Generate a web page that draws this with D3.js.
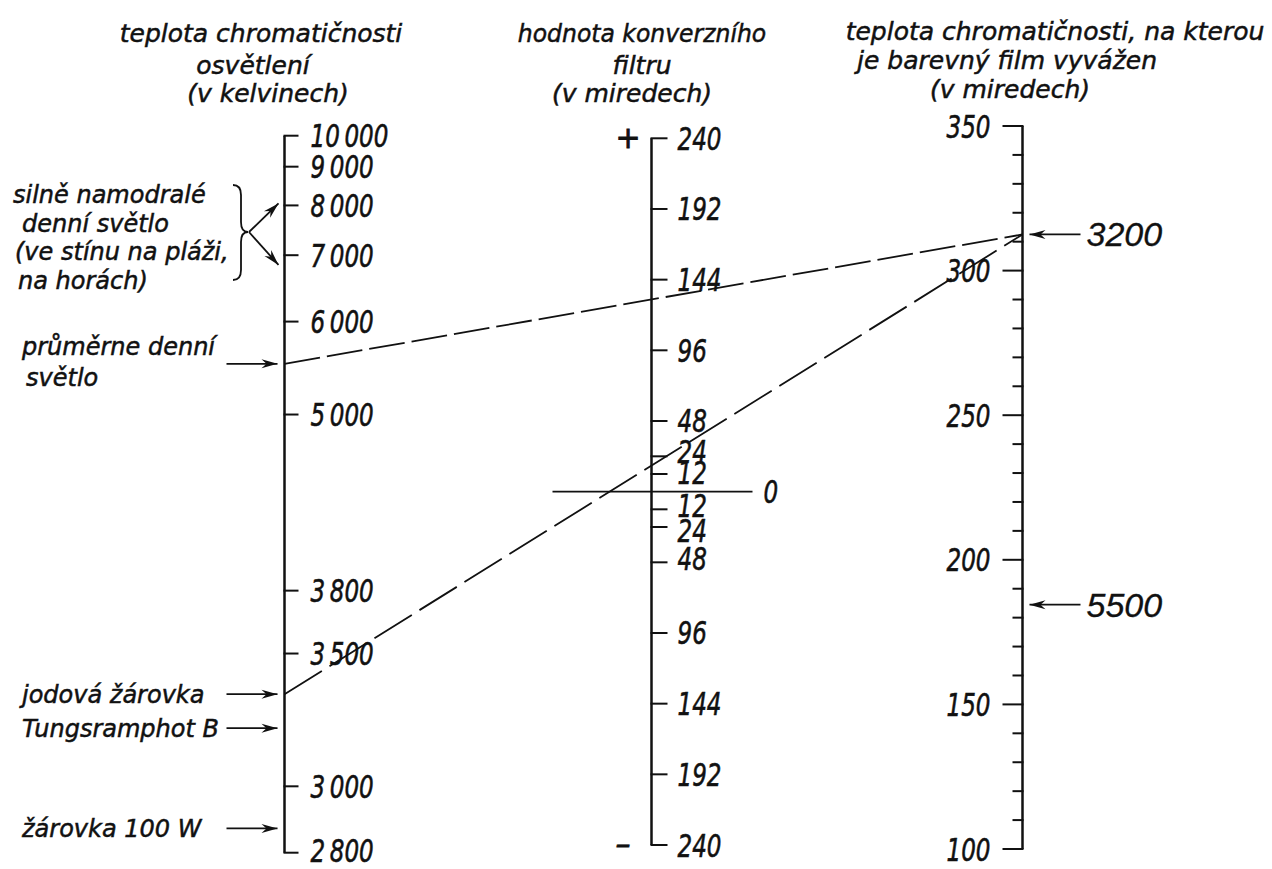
<!DOCTYPE html>
<html><head><meta charset="utf-8">
<script src="https://cdn.jsdelivr.net/npm/d3@7/dist/d3.min.js"></script>
<style>body{margin:0;background:#fff}svg{display:block}</style>
</head><body><svg id="c" width="1272" height="869"></svg>
<script>
// ---------- data ----------
const leftTickKelvin = [10000, 9000, 8000, 7000, 6000, 5000, 3800, 3500, 3000, 2800];
const leftTickLabels = ["10\u2009000", "9\u2009000", "8\u2009000", "7\u2009000", "6\u2009000", "5\u2009000", "3\u2009800", "3\u2009500", "3\u2009000", "2\u2009800"];
const filterTicks = [240, 192, 144, 96, 48, 24, 12, -12, -24, -48, -96, -144, -192, -240];
const filterTickLabels = ["240", "192", "144", "96", "48", "24", "12", "12", "24", "48", "96", "144", "192", "240"];
const filmTicks = [100, 110, 120, 130, 140, 150, 160, 170, 180, 190, 200, 210, 220, 230, 240, 250, 260, 270, 280, 290, 300, 310, 320, 330, 340, 350];
const filmTickLabels = [100, 150, 200, 250, 300, 350];
const sourceLabels = [["průměrne denní", "světlo"], ["jodová žárovka"], ["Tungsramphot B"], ["žárovka 100 W"]];
const sourceKelvin = [5500, 3330, 3200, 2870];
const skyLabel = ["silně namodralé", "denní světlo", "(ve stínu na pláži,", "na horách)"];
const skyKelvin = [8000, 6800];
const filmMarkLabels = ["3200", "5500"];
const filmMarkMired = [312.5, 184.5];
const lineFromKelvin = [5500, 3330];
const lineToMired = [312.5, 312.5];
const titleLeft = ["teplota chromatičnosti", "osvětlení", "(v kelvinech)"];
const titleMid = ["hodnota konverzního", "filtru", "(v miredech)"];
const titleRight = ["teplota chromatičnosti, na kterou", "je barevný film vyvážen", "(v miredech)"];

// ---------- layout ----------
const svg = d3.select("#c");
svg.append("rect").attr("width", 1272).attr("height", 869).attr("fill", "#fff");
const ink = "#111";
const xL = 284.5, xM = 651.5, xR = 1022.5;
const mired = k => 1e6 / k;
const yL = d3.scaleLinear().domain([mired(10000), mired(2800)]).range([135.7, 852.7]);
const yM = d3.scaleLinear().domain([240, -240]).range([138.3, 845]);
const yR = d3.scaleLinear().domain([350, 100]).range([126, 849]);
// small label nudges on the crowded middle scale (layout only)
const midNudge = { "24": -5, "12": -1, "-12": -4, "-24": 4, "-48": -4 };

const defs = svg.append("defs");
defs.append("marker").attr("id", "arr").attr("viewBox", "-17 -5 18 10")
  .attr("refX", 0).attr("refY", 0).attr("markerWidth", 18).attr("markerHeight", 10)
  .attr("markerUnits", "userSpaceOnUse").attr("orient", "auto")
  .append("path").attr("d", "M0,0 L-16,-4.5 L-11,0 L-16,4.5 Z").attr("fill", ink);

function label(g, x, y, str, o = {}) {
  const size = o.size || 24, sx = o.sx || 1;
  return g.append("text")
    .attr("transform", `translate(${x},${y}) scale(${sx},1)`)
    .attr("text-anchor", o.anchor || "start")
    .attr("font-family", o.family || "'DejaVu Sans', sans-serif")
    .attr("font-style", "italic")
    .attr("font-size", size)
    .attr("fill", ink)
    .attr("stroke", ink)
    .attr("stroke-width", o.sw == null ? 0.5 : o.sw)
    .text(str);
}
const tickFont = { size: 32, sx: 0.72, sw: 0.6 };

// ---------- titles ----------
const gT = svg.append("g");
const tb = [42, 74, 102];
titleLeft.forEach((s, i) => label(gT, [261, 253, 268][i], tb[i], s, { size: 25, anchor: "middle" }));
titleMid.forEach((s, i) => label(gT, [642, 642, 632][i], tb[i], s, { size: 25, anchor: "middle", sx: i === 0 ? 0.94 : 1 }));
titleRight.forEach((s, i) => label(gT, [1055, 1007, 1010][i], [40, 69, 98][i], s, { size: 25, anchor: "middle" }));

// ---------- left axis (kelvin, mired-linear) ----------
const gL = svg.append("g");
gL.append("line").attr("x1", xL).attr("x2", xL).attr("y1", yL(mired(10000))).attr("y2", yL(mired(2800)))
  .attr("stroke", ink).attr("stroke-width", 2.5);
leftTickKelvin.forEach((k, i) => {
  const y = yL(mired(k));
  gL.append("line").attr("x1", xL - 1).attr("x2", xL + 14).attr("y1", y).attr("y2", y).attr("stroke", ink).attr("stroke-width", 2);
  label(gL, xL + 26, y + (i === leftTickKelvin.length - 1 ? 9 : 11.5), leftTickLabels[i], tickFont);
});

// ---------- middle axis (filter) ----------
const gM = svg.append("g");
gM.append("line").attr("x1", xM).attr("x2", xM).attr("y1", yM(240)).attr("y2", yM(-240))
  .attr("stroke", ink).attr("stroke-width", 2.5);
filterTicks.forEach((v, i) => {
  const y = yM(v);
  gM.append("line").attr("x1", xM - 1).attr("x2", xM + 16).attr("y1", y).attr("y2", y).attr("stroke", ink).attr("stroke-width", 2);
  label(gM, xM + 26, y + 11.5 + (midNudge[String(v)] || 0), filterTickLabels[i], tickFont);
});
gM.append("line").attr("x1", xM - 99).attr("x2", xM + 101).attr("y1", yM(0)).attr("y2", yM(0)).attr("stroke", ink).attr("stroke-width", 1.8);
label(gM, xM + 112, yM(0) + 11.5, "0", tickFont);
label(gM, xM - 36, yM(240) + 10, "+", { size: 30, sw: 0.8 });
label(gM, xM - 36, yM(-240) + 9, "\u2013", { size: 30, sw: 0.8 });

// ---------- right axis (film, mired) ----------
const gR = svg.append("g");
gR.append("line").attr("x1", xR).attr("x2", xR).attr("y1", yR(350)).attr("y2", yR(100))
  .attr("stroke", ink).attr("stroke-width", 2.5);
filmTicks.forEach(v => {
  const y = yR(v), major = filmTickLabels.includes(v);
  gR.append("line").attr("x1", xR + 1).attr("x2", xR - (major ? 20 : 10)).attr("y1", y).attr("y2", y).attr("stroke", ink).attr("stroke-width", 2);
});
filmTickLabels.forEach(v => label(gR, xR - 32, yR(v) + 11.5, String(v), Object.assign({ anchor: "end" }, tickFont)));
filmMarkMired.forEach((m, i) => {
  const y = yR(m);
  gR.append("line").attr("x1", xR + 58).attr("x2", xR + 7).attr("y1", y).attr("y2", y)
    .attr("stroke", ink).attr("stroke-width", 1.8).attr("marker-end", "url(#arr)");
  label(gR, xR + 64, y + 12, filmMarkLabels[i], { size: 34, family: "'Liberation Sans', Arial, sans-serif", sw: 0.3 });
});

// ---------- left annotations ----------
const gA = svg.append("g");
sourceKelvin.forEach((k, i) => {
  const y = yL(mired(k));
  gA.append("line").attr("x1", xL - 58).attr("x2", xL - 7).attr("y1", y).attr("y2", y)
    .attr("stroke", ink).attr("stroke-width", 1.8).attr("marker-end", "url(#arr)");
  const lines = sourceLabels[i];
  if (lines.length === 1) {
    label(gA, 22, y + 9, lines[0]);
  } else {
    lines.forEach((s, j) => label(gA, 22 + j * 4, y - 9 + j * 31, s));
  }
});
// strongly bluish daylight group
skyLabel.forEach((s, j) => label(gA, [13, 22, 15, 18][j], 203 + j * 28.5, s));
const bx = 233, bTop = 185, bBot = 280, bMid = 232;
gA.append("path")
  .attr("d", `M${bx},${bTop} Q${bx + 8},${bTop} ${bx + 8},${bTop + 10} L${bx + 8},${bMid - 10} Q${bx + 8},${bMid} ${bx + 15},${bMid} Q${bx + 8},${bMid} ${bx + 8},${bMid + 10} L${bx + 8},${bBot - 10} Q${bx + 8},${bBot} ${bx},${bBot}`)
  .attr("fill", "none").attr("stroke", ink).attr("stroke-width", 1.8);
skyKelvin.forEach(k => {
  gA.append("line").attr("x1", bx + 16).attr("y1", bMid).attr("x2", xL - 6).attr("y2", yL(mired(k)) - 2)
    .attr("stroke", ink).attr("stroke-width", 1.8).attr("marker-end", "url(#arr)");
});

// ---------- conversion lines ----------
const gC = svg.append("g");
const dashes = ["36,7", "44,9"];
lineFromKelvin.forEach((k, i) => {
  gC.append("line").attr("x1", xL).attr("y1", yL(mired(k))).attr("x2", xR).attr("y2", yR(lineToMired[i]))
    .attr("stroke", ink).attr("stroke-width", 1.8).attr("stroke-dasharray", dashes[i]);
});
</script></body></html>
